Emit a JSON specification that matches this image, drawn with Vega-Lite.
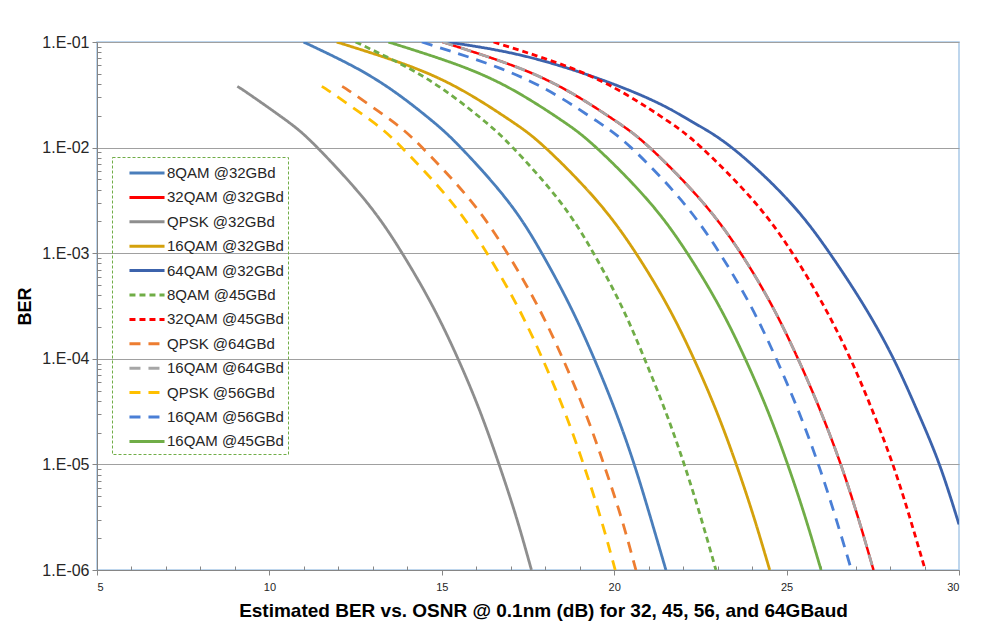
{
  "$schema": "https://vega.github.io/schema/vega-lite/v6.json",
  "width": 862,
  "height": 528,
  "autosize": {"type": "none"},
  "padding": {"left": 97, "top": 42, "right": 33, "bottom": 59},
  "background": "white",
  "config": {
    "view": {"stroke": "#A9C9E8", "strokeWidth": 1.5},
    "font": "Liberation Sans",
    "legend": {
      "orient": "none",
      "legendX": 15,
      "legendY": 115,
      "padding": 4,
      "rowPadding": 4.4,
      "symbolType": "M-1.67,0H1.67",
      "symbolSize": 441,
      "symbolStrokeWidth": 3,
      "symbolOffset": 19,
      "labelOffset": 8,
      "labelFont": "Liberation Sans",
      "labelFontSize": 15,
      "labelColor": "#262626",
      "labelLimit": 200,
      "strokeColor": "#70AD47"
    }
  },
  "data": {
    "values": [
      {"s": "32QAM @32GBd", "x": 15.02, "y": 0.1},
      {"s": "32QAM @32GBd", "x": 17.27, "y": 0.05623},
      {"s": "32QAM @32GBd", "x": 18.85, "y": 0.03162},
      {"s": "32QAM @32GBd", "x": 20.05, "y": 0.01778},
      {"s": "32QAM @32GBd", "x": 21.03, "y": 0.01},
      {"s": "32QAM @32GBd", "x": 22.52, "y": 0.003162},
      {"s": "32QAM @32GBd", "x": 23.67, "y": 0.001},
      {"s": "32QAM @32GBd", "x": 24.58, "y": 0.0003162},
      {"s": "32QAM @32GBd", "x": 25.33, "y": 0.0001},
      {"s": "32QAM @32GBd", "x": 25.99, "y": 0.00003162},
      {"s": "32QAM @32GBd", "x": 26.57, "y": 0.00001},
      {"s": "32QAM @32GBd", "x": 27.07, "y": 0.000003162},
      {"s": "32QAM @32GBd", "x": 27.52, "y": 0.000001},

      {"s": "8QAM @32GBd", "x": 10.99, "y": 0.1},
      {"s": "8QAM @32GBd", "x": 12.54, "y": 0.05623},
      {"s": "8QAM @32GBd", "x": 13.75, "y": 0.03162},
      {"s": "8QAM @32GBd", "x": 14.73, "y": 0.01778},
      {"s": "8QAM @32GBd", "x": 15.55, "y": 0.01},
      {"s": "8QAM @32GBd", "x": 16.9, "y": 0.003162},
      {"s": "8QAM @32GBd", "x": 17.9, "y": 0.001},
      {"s": "8QAM @32GBd", "x": 18.72, "y": 0.0003162},
      {"s": "8QAM @32GBd", "x": 19.42, "y": 0.0001},
      {"s": "8QAM @32GBd", "x": 20.04, "y": 0.00003162},
      {"s": "8QAM @32GBd", "x": 20.58, "y": 0.00001},
      {"s": "8QAM @32GBd", "x": 21.05, "y": 0.000003162},
      {"s": "8QAM @32GBd", "x": 21.5, "y": 0.000001},

      {"s": "QPSK @32GBd", "x": 9.07, "y": 0.038},
      {"s": "QPSK @32GBd", "x": 9.44, "y": 0.03162},
      {"s": "QPSK @32GBd", "x": 10.52, "y": 0.01778},
      {"s": "QPSK @32GBd", "x": 11.39, "y": 0.01},
      {"s": "QPSK @32GBd", "x": 12.78, "y": 0.003162},
      {"s": "QPSK @32GBd", "x": 13.85, "y": 0.001},
      {"s": "QPSK @32GBd", "x": 14.73, "y": 0.0003162},
      {"s": "QPSK @32GBd", "x": 15.47, "y": 0.0001},
      {"s": "QPSK @32GBd", "x": 16.11, "y": 0.00003162},
      {"s": "QPSK @32GBd", "x": 16.66, "y": 0.00001},
      {"s": "QPSK @32GBd", "x": 17.16, "y": 0.000003162},
      {"s": "QPSK @32GBd", "x": 17.6, "y": 0.000001},

      {"s": "16QAM @32GBd", "x": 11.95, "y": 0.1},
      {"s": "16QAM @32GBd", "x": 14.24, "y": 0.05623},
      {"s": "16QAM @32GBd", "x": 15.82, "y": 0.03162},
      {"s": "16QAM @32GBd", "x": 17.02, "y": 0.01778},
      {"s": "16QAM @32GBd", "x": 18.0, "y": 0.01},
      {"s": "16QAM @32GBd", "x": 19.49, "y": 0.003162},
      {"s": "16QAM @32GBd", "x": 20.63, "y": 0.001},
      {"s": "16QAM @32GBd", "x": 21.55, "y": 0.0003162},
      {"s": "16QAM @32GBd", "x": 22.31, "y": 0.0001},
      {"s": "16QAM @32GBd", "x": 22.97, "y": 0.00003162},
      {"s": "16QAM @32GBd", "x": 23.54, "y": 0.00001},
      {"s": "16QAM @32GBd", "x": 24.05, "y": 0.000003162},
      {"s": "16QAM @32GBd", "x": 24.51, "y": 0.000001},

      {"s": "64QAM @32GBd", "x": 15.15, "y": 0.1},
      {"s": "64QAM @32GBd", "x": 17.84, "y": 0.0676},
      {"s": "64QAM @32GBd", "x": 20.75, "y": 0.03162},
      {"s": "64QAM @32GBd", "x": 22.23, "y": 0.01778},
      {"s": "64QAM @32GBd", "x": 23.41, "y": 0.01},
      {"s": "64QAM @32GBd", "x": 25.05, "y": 0.003162},
      {"s": "64QAM @32GBd", "x": 26.25, "y": 0.001},
      {"s": "64QAM @32GBd", "x": 27.25, "y": 0.0003162},
      {"s": "64QAM @32GBd", "x": 28.1, "y": 0.0001},
      {"s": "64QAM @32GBd", "x": 28.8, "y": 0.00003162},
      {"s": "64QAM @32GBd", "x": 29.43, "y": 0.00001},
      {"s": "64QAM @32GBd", "x": 30.0, "y": 0.0000027},

      {"s": "8QAM @45GBd", "x": 12.5, "y": 0.1},
      {"s": "8QAM @45GBd", "x": 14.05, "y": 0.05623},
      {"s": "8QAM @45GBd", "x": 15.26, "y": 0.03162},
      {"s": "8QAM @45GBd", "x": 16.24, "y": 0.01778},
      {"s": "8QAM @45GBd", "x": 17.06, "y": 0.01},
      {"s": "8QAM @45GBd", "x": 18.4, "y": 0.003162},
      {"s": "8QAM @45GBd", "x": 19.4, "y": 0.001},
      {"s": "8QAM @45GBd", "x": 20.21, "y": 0.0003162},
      {"s": "8QAM @45GBd", "x": 20.88, "y": 0.0001},
      {"s": "8QAM @45GBd", "x": 21.49, "y": 0.00003162},
      {"s": "8QAM @45GBd", "x": 22.03, "y": 0.00001},
      {"s": "8QAM @45GBd", "x": 22.51, "y": 0.000003162},
      {"s": "8QAM @45GBd", "x": 22.95, "y": 0.000001},

      {"s": "32QAM @45GBd", "x": 16.5, "y": 0.1},
      {"s": "32QAM @45GBd", "x": 18.78, "y": 0.05623},
      {"s": "32QAM @45GBd", "x": 20.36, "y": 0.03162},
      {"s": "32QAM @45GBd", "x": 21.56, "y": 0.01778},
      {"s": "32QAM @45GBd", "x": 22.53, "y": 0.01},
      {"s": "32QAM @45GBd", "x": 24.03, "y": 0.003162},
      {"s": "32QAM @45GBd", "x": 25.17, "y": 0.001},
      {"s": "32QAM @45GBd", "x": 26.08, "y": 0.0003162},
      {"s": "32QAM @45GBd", "x": 26.85, "y": 0.0001},
      {"s": "32QAM @45GBd", "x": 27.5, "y": 0.00003162},
      {"s": "32QAM @45GBd", "x": 28.08, "y": 0.00001},
      {"s": "32QAM @45GBd", "x": 28.57, "y": 0.000003162},
      {"s": "32QAM @45GBd", "x": 29.02, "y": 0.000001},

      {"s": "QPSK @64GBd", "x": 12.11, "y": 0.038},
      {"s": "QPSK @64GBd", "x": 12.48, "y": 0.03162},
      {"s": "QPSK @64GBd", "x": 13.56, "y": 0.01778},
      {"s": "QPSK @64GBd", "x": 14.43, "y": 0.01},
      {"s": "QPSK @64GBd", "x": 15.83, "y": 0.003162},
      {"s": "QPSK @64GBd", "x": 16.9, "y": 0.001},
      {"s": "QPSK @64GBd", "x": 17.78, "y": 0.0003162},
      {"s": "QPSK @64GBd", "x": 18.51, "y": 0.0001},
      {"s": "QPSK @64GBd", "x": 19.15, "y": 0.00003162},
      {"s": "QPSK @64GBd", "x": 19.7, "y": 0.00001},
      {"s": "QPSK @64GBd", "x": 20.2, "y": 0.000003162},
      {"s": "QPSK @64GBd", "x": 20.63, "y": 0.000001},

      {"s": "16QAM @64GBd", "x": 15.02, "y": 0.1},
      {"s": "16QAM @64GBd", "x": 17.27, "y": 0.05623},
      {"s": "16QAM @64GBd", "x": 18.85, "y": 0.03162},
      {"s": "16QAM @64GBd", "x": 20.05, "y": 0.01778},
      {"s": "16QAM @64GBd", "x": 21.03, "y": 0.01},
      {"s": "16QAM @64GBd", "x": 22.52, "y": 0.003162},
      {"s": "16QAM @64GBd", "x": 23.67, "y": 0.001},
      {"s": "16QAM @64GBd", "x": 24.58, "y": 0.0003162},
      {"s": "16QAM @64GBd", "x": 25.33, "y": 0.0001},
      {"s": "16QAM @64GBd", "x": 25.99, "y": 0.00003162},
      {"s": "16QAM @64GBd", "x": 26.57, "y": 0.00001},
      {"s": "16QAM @64GBd", "x": 27.07, "y": 0.000003162},
      {"s": "16QAM @64GBd", "x": 27.52, "y": 0.000001},

      {"s": "QPSK @56GBd", "x": 11.52, "y": 0.038},
      {"s": "QPSK @56GBd", "x": 11.89, "y": 0.03162},
      {"s": "QPSK @56GBd", "x": 12.97, "y": 0.01778},
      {"s": "QPSK @56GBd", "x": 13.84, "y": 0.01},
      {"s": "QPSK @56GBd", "x": 15.24, "y": 0.003162},
      {"s": "QPSK @56GBd", "x": 16.31, "y": 0.001},
      {"s": "QPSK @56GBd", "x": 17.19, "y": 0.0003162},
      {"s": "QPSK @56GBd", "x": 17.92, "y": 0.0001},
      {"s": "QPSK @56GBd", "x": 18.56, "y": 0.00003162},
      {"s": "QPSK @56GBd", "x": 19.11, "y": 0.00001},
      {"s": "QPSK @56GBd", "x": 19.6, "y": 0.000003162},
      {"s": "QPSK @56GBd", "x": 20.03, "y": 0.000001},

      {"s": "16QAM @56GBd", "x": 14.42, "y": 0.1},
      {"s": "16QAM @56GBd", "x": 16.7, "y": 0.05623},
      {"s": "16QAM @56GBd", "x": 18.3, "y": 0.03162},
      {"s": "16QAM @56GBd", "x": 19.5, "y": 0.01778},
      {"s": "16QAM @56GBd", "x": 20.49, "y": 0.01},
      {"s": "16QAM @56GBd", "x": 21.95, "y": 0.003162},
      {"s": "16QAM @56GBd", "x": 23.06, "y": 0.001},
      {"s": "16QAM @56GBd", "x": 23.96, "y": 0.0003162},
      {"s": "16QAM @56GBd", "x": 24.7, "y": 0.0001},
      {"s": "16QAM @56GBd", "x": 25.35, "y": 0.00003162},
      {"s": "16QAM @56GBd", "x": 25.92, "y": 0.00001},
      {"s": "16QAM @56GBd", "x": 26.42, "y": 0.000003162},
      {"s": "16QAM @56GBd", "x": 26.88, "y": 0.000001},

      {"s": "16QAM @45GBd", "x": 13.45, "y": 0.1},
      {"s": "16QAM @45GBd", "x": 15.73, "y": 0.05623},
      {"s": "16QAM @45GBd", "x": 17.31, "y": 0.03162},
      {"s": "16QAM @45GBd", "x": 18.51, "y": 0.01778},
      {"s": "16QAM @45GBd", "x": 19.48, "y": 0.01},
      {"s": "16QAM @45GBd", "x": 20.98, "y": 0.003162},
      {"s": "16QAM @45GBd", "x": 22.12, "y": 0.001},
      {"s": "16QAM @45GBd", "x": 23.04, "y": 0.0003162},
      {"s": "16QAM @45GBd", "x": 23.8, "y": 0.0001},
      {"s": "16QAM @45GBd", "x": 24.46, "y": 0.00003162},
      {"s": "16QAM @45GBd", "x": 25.03, "y": 0.00001},
      {"s": "16QAM @45GBd", "x": 25.54, "y": 0.000003162},
      {"s": "16QAM @45GBd", "x": 26.0, "y": 0.000001}
    ]
  },
  "encoding": {
    "x": {
      "field": "x",
      "type": "quantitative",
      "scale": {"domain": [5, 30], "nice": false, "zero": false},
      "axis": {
        "values": [5,6,7,8,9,10,11,12,13,14,15,16,17,18,19,20,21,22,23,24,25,26,27,28,29,30],
        "labelExpr": "datum.value % 5 === 0 ? datum.label : ''",
        "labelOverlap": false,
        "labelBound": false,
        "labelFont": "Liberation Sans",
        "labelFontSize": 11,
        "labelColor": "#262626",
        "labelPadding": 6,
        "grid": false,
        "domainColor": "#868686",
        "domainWidth": 1,
        "tickColor": "#868686",
        "tickSize": {"condition": {"test": "datum.value % 5 === 0", "value": 5}, "value": -4},
        "title": "Estimated BER vs. OSNR @ 0.1nm (dB) for 32, 45, 56, and 64GBaud",
        "titleFont": "Liberation Sans",
        "titleFontSize": 19,
        "titleFontWeight": "bold",
        "titleColor": "#000000",
        "titlePadding": 9,
        "titleX": 446,
        "titleAnchor": "middle"
      }
    },
    "y": {
      "field": "y",
      "type": "quantitative",
      "scale": {"type": "log", "domain": [0.000001, 0.1], "nice": false},
      "axis": {
        "values": [0.000001,0.000002,0.000003,0.000004,0.000005,0.000006,0.000007,0.000008,0.000009,
                   0.00001,0.00002,0.00003,0.00004,0.00005,0.00006,0.00007,0.00008,0.00009,
                   0.0001,0.0002,0.0003,0.0004,0.0005,0.0006,0.0007,0.0008,0.0009,
                   0.001,0.002,0.003,0.004,0.005,0.006,0.007,0.008,0.009,
                   0.01,0.02,0.03,0.04,0.05,0.06,0.07,0.08,0.09,0.1],
        "labelExpr": "abs(log(datum.value)/LN10 - round(log(datum.value)/LN10)) < 0.001 ? '1.E-0' + (-round(log(datum.value)/LN10)) : ''",
        "labelOverlap": false,
        "labelBound": false,
        "labelFont": "Liberation Sans",
        "labelFontSize": 16,
        "labelColor": "#262626",
        "labelPadding": 3,
        "domainColor": "#868686",
        "tickColor": "#868686",
        "tickSize": {"condition": {"test": "abs(log(datum.value)/LN10 - round(log(datum.value)/LN10)) < 0.001", "value": 5}, "value": -4},
        "grid": true,
        "gridColor": "#A0A0A0",
        "gridWidth": 1,
        "gridOpacity": {"condition": {"test": "abs(log(datum.value)/LN10 - round(log(datum.value)/LN10)) < 0.001", "value": 1}, "value": 0},
        "title": "BER",
        "titleFont": "Liberation Sans",
        "titleFontSize": 18,
        "titleFontWeight": "bold",
        "titleColor": "#000000",
        "titlePadding": 7
      }
    },
    "color": {
      "field": "s",
      "type": "nominal",
      "scale": {
        "domain": ["8QAM @32GBd","32QAM @32GBd","QPSK @32GBd","16QAM @32GBd","64QAM @32GBd","8QAM @45GBd","32QAM @45GBd","QPSK @64GBd","16QAM @64GBd","QPSK @56GBd","16QAM @56GBd","16QAM @45GBd"],
        "range": ["#4A7EBB","#FF0000","#8E8E8E","#D4A10C","#3C63AC","#70AD47","#FF0000","#ED7D31","#A6A6A6","#FFC000","#4A7FD6","#70AD47"]
      },
      "legend": {
        "title": null,
        "encode": {
          "legend": {"update": {"strokeDash": {"value": [3, 2]}, "stroke": {"value": "#70AD47"}, "strokeWidth": {"value": 1}}},
          "labels": {"update": {"fontSize": {"value": 15}, "fill": {"value": "#262626"}}}
        }
      }
    },
    "strokeDash": {
      "field": "s",
      "type": "nominal",
      "scale": {
        "domain": ["8QAM @32GBd","32QAM @32GBd","QPSK @32GBd","16QAM @32GBd","64QAM @32GBd","8QAM @45GBd","32QAM @45GBd","QPSK @64GBd","16QAM @64GBd","QPSK @56GBd","16QAM @56GBd","16QAM @45GBd"],
        "range": [[1,0],[1,0],[1,0],[1,0],[1,0],[6,4],[6,4],[11,8],[11,8],[11,8],[11,8],[1,0]]
      },
      "legend": {
        "title": null,
        "encode": {
          "legend": {"update": {"strokeDash": {"value": [3, 2]}, "stroke": {"value": "#70AD47"}, "strokeWidth": {"value": 1}}},
          "labels": {"update": {"fontSize": {"value": 15}, "fill": {"value": "#262626"}}}
        }
      }
    }
  },
  "layer": [
    {
      "transform": [{"filter": "datum.s === '32QAM @32GBd'"}],
      "mark": {"type": "line", "strokeWidth": 2.5, "interpolate": "natural", "clip": true}
    },
    {
      "transform": [{"filter": "datum.s !== '32QAM @32GBd'"}],
      "mark": {"type": "line", "strokeWidth": 2.8, "interpolate": "natural", "clip": true}
    }
  ]
}
